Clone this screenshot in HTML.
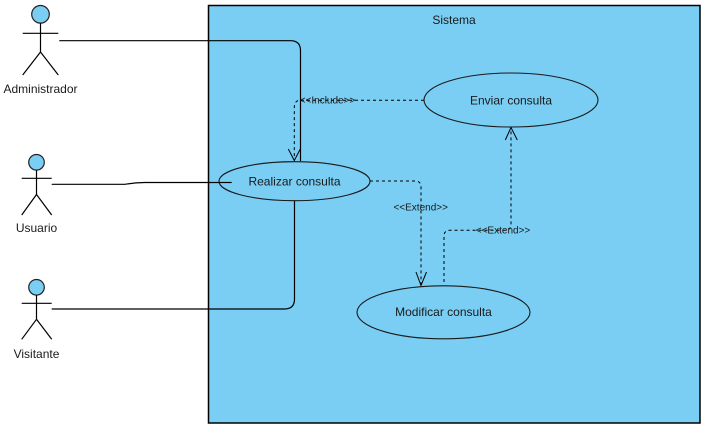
<!DOCTYPE html>
<html>
<head>
<meta charset="utf-8">
<style>
html,body{margin:0;padding:0;background:#fff;}
svg{display:block;}
text{font-family:"Liberation Sans",Arial,sans-serif;fill:#1a1a1a;}
</style>
</head>
<body>
<svg width="705" height="427" viewBox="0 0 705 427" xmlns="http://www.w3.org/2000/svg">
  <!-- System boundary -->
  <rect x="208.5" y="5.5" width="491.5" height="417.5" fill="#7acef4" stroke="#000" stroke-width="1.5"/>
  <text x="454" y="24" font-size="12" text-anchor="middle">Sistema</text>

  <!-- Actor: Administrador -->
  <g stroke="#000" stroke-width="1.2" fill="none">
    <circle cx="40.5" cy="14.3" r="8.8" fill="#7acef4" stroke="#222"/>
    <line x1="40.5" y1="23" x2="40.5" y2="52"/>
    <line x1="22.7" y1="33.3" x2="58.3" y2="33.3"/>
    <line x1="40.5" y1="52" x2="22.7" y2="75"/>
    <line x1="40.5" y1="52" x2="58.3" y2="75"/>
  </g>
  <text x="40.5" y="93" font-size="12" text-anchor="middle">Administrador</text>

  <!-- Actor: Usuario -->
  <g stroke="#000" stroke-width="1.2" fill="none">
    <circle cx="36.5" cy="162.3" r="7.8" fill="#7acef4" stroke="#222"/>
    <line x1="36.5" y1="170" x2="36.5" y2="194.5"/>
    <line x1="21.7" y1="178.3" x2="51.7" y2="178.3"/>
    <line x1="36.5" y1="194.5" x2="21.7" y2="215"/>
    <line x1="36.5" y1="194.5" x2="51.7" y2="215"/>
  </g>
  <text x="36.5" y="232" font-size="12" text-anchor="middle">Usuario</text>

  <!-- Actor: Visitante -->
  <g stroke="#000" stroke-width="1.2" fill="none">
    <circle cx="36.5" cy="287.3" r="7.8" fill="#7acef4" stroke="#222"/>
    <line x1="36.5" y1="295" x2="36.5" y2="319.3"/>
    <line x1="21.7" y1="303.3" x2="51.7" y2="303.3"/>
    <line x1="36.5" y1="319.3" x2="21.7" y2="339.3"/>
    <line x1="36.5" y1="319.3" x2="51.7" y2="339.3"/>
  </g>
  <text x="36.5" y="358" font-size="12" text-anchor="middle">Visitante</text>

  <!-- Associations -->
  <g stroke="#000" stroke-width="1.2" fill="none">
    <path d="M59.3 40.7 H290.5 Q300.5 40.7 300.5 50.7 V161"/>
    <path d="M51.7 184.3 H125 Q135 182.5 145 182.5 H231.7"/>
    <path d="M51.7 309 H284.5 Q294.5 309 294.5 299 V200.7"/>
  </g>

  <!-- Use cases -->
  <g fill="#7acef4" stroke="#1a1a1a" stroke-width="1.1">
    <ellipse cx="294.5" cy="181.2" rx="75.5" ry="19.5"/>
    <ellipse cx="511" cy="100" rx="87" ry="27"/>
    <ellipse cx="443.5" cy="312.3" rx="86.5" ry="26.5"/>
  </g>
  <text x="294.5" y="185.5" font-size="12" text-anchor="middle">Realizar consulta</text>
  <text x="511" y="104.5" font-size="12" text-anchor="middle">Enviar consulta</text>
  <text x="443.5" y="316" font-size="12" text-anchor="middle">Modificar consulta</text>

  <!-- redraw Usuario line stub inside ellipse -->
  <line x1="219" y1="182.5" x2="231.7" y2="182.5" stroke="#000" stroke-width="1.2"/>

  <!-- Include -->
  <g stroke="#000" stroke-width="1" fill="none" stroke-dasharray="3,3">
    <path d="M424 100.3 H300 Q294.3 100.3 294.3 108 V160"/>
    <path d="M370 181 H415 Q421 181 421 187 V285"/>
    <path d="M444 282 V236 Q444 230.3 450 230.3 H505 Q511 230.3 511 224 V128"/>
  </g>
  <g stroke="#000" stroke-width="1" fill="none">
    <polyline points="288.3,149 294.3,160.5 300.3,149"/>
    <polyline points="416,272 421,285.5 426.5,272"/>
    <polyline points="505.3,140 511,127.5 517.3,140"/>
  </g>
  <text x="327.5" y="103.5" font-size="10" text-anchor="middle">&lt;&lt;Include&gt;&gt;</text>
  <text x="420.7" y="210.5" font-size="10" text-anchor="middle">&lt;&lt;Extend&gt;&gt;</text>
  <text x="503" y="233.5" font-size="10" text-anchor="middle">&lt;&lt;Extend&gt;&gt;</text>
</svg>
</body>
</html>
